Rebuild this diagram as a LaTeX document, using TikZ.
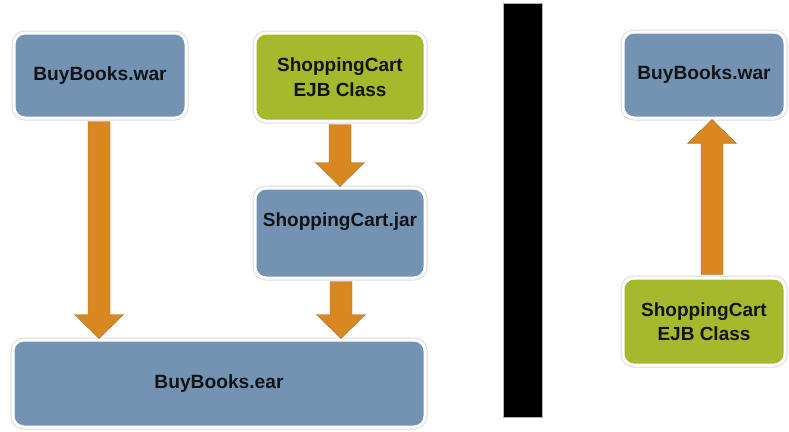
\documentclass[tikz,border=0pt]{standalone}
\usepackage{fontspec}
\setmainfont{Liberation Sans}
\usetikzlibrary{calc}
\definecolor{boxblue}{HTML}{7493B2}
\definecolor{boxgreen}{HTML}{A6B82B}
\definecolor{arroworange}{HTML}{D98821}
\definecolor{txt}{HTML}{101418}
\newcommand\myfatarrow[3]{% #1 start, #2 end (y only), #3 direction sign (1 = down)
  \fill[arrowstyle] let \p1=#1, \p2=#2 in
    (\x1-11pt,\y1) -- (\x1-11pt,{\y2+#3*24pt}) -- (\x1-24.5pt,{\y2+#3*24pt})
    -- (\x1,\y2) -- (\x1+24.5pt,{\y2+#3*24pt}) -- (\x1+11pt,{\y2+#3*24pt})
    -- (\x1+11pt,\y1) -- cycle;}
\tikzset{
  boxbase/.style={rounded corners=11pt, preaction={draw=gray!28, line width=5pt},
    draw=white, line width=3pt, text=txt, font=\bfseries, align=center, inner sep=0pt},
  bluebox/.style={boxbase, fill=boxblue},
  greenbox/.style={boxbase, fill=boxgreen},
  bigtext/.style={font=\fontsize{19.2}{23}\selectfont\bfseries},
  smalltext/.style={font=\fontsize{19}{24.5}\selectfont\bfseries},
  arrowstyle/.style={fill=arroworange, draw=arroworange!80!black!70!gray, line width=0.4pt}
}
\begin{document}
\begin{tikzpicture}[x=1pt,y=-1pt]
\useasboundingbox (0,0) rectangle (789,431);
\fill[white] (0,0) rectangle (789,431);
% left side
\node[bluebox, bigtext, minimum width=172pt, minimum height=85pt] (war1) at (100,75.5) {BuyBooks.war};
\node[greenbox, smalltext, minimum width=170pt, minimum height=88pt] (ejb1) at (340,77) {ShoppingCart\\EJB Class};
\node[bluebox, minimum width=170pt, minimum height=90pt] (jar) at (340,233) {};
\node[smalltext, text=txt, inner sep=0pt] (jartext) at (340,222) {ShoppingCart.jar};
\node[bluebox, bigtext, minimum width=412pt, minimum height=87pt] (ear) at (219,383.5) {BuyBooks.ear};
% separator bar
\node[fill=black, draw=gray!60, line width=0.6pt, minimum width=39pt, minimum height=414pt, inner sep=0pt] (bar) at (522.5,210) {};
% right side
\node[bluebox, bigtext, minimum width=162pt, minimum height=86pt] (war2) at (704,75) {BuyBooks.war};
\node[greenbox, smalltext, minimum width=162pt, minimum height=87pt] (ejb2) at (704,321.5) {ShoppingCart\\EJB Class};
% arrows
\myfatarrow{($(war1.south)+(-1,2)$)}{(ear.north)}{1}
\myfatarrow{($(ejb1.south)+(0,2)$)}{(jar.north)}{1}
\myfatarrow{($(jar.south)+(1,2)$)}{(ear.north)}{1}
\myfatarrow{($(ejb2.north)+(8,-2)$)}{(war2.south)}{-1}
\end{tikzpicture}
\end{document}
